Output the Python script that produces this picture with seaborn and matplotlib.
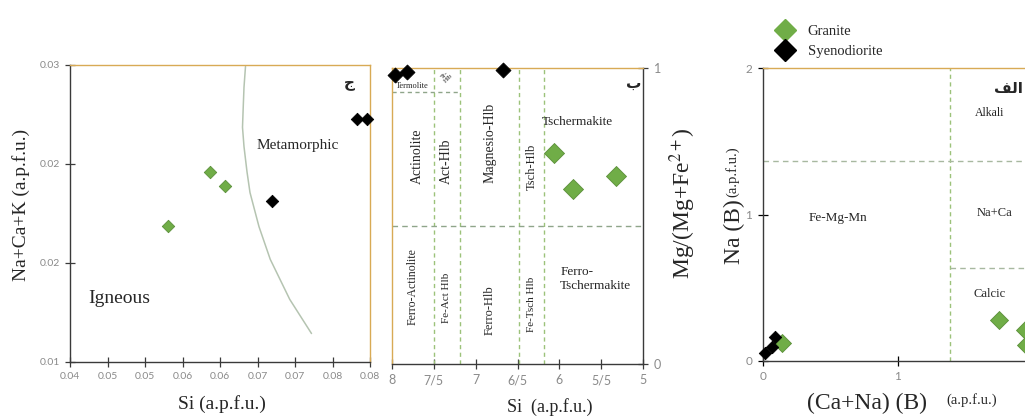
import matplotlib
matplotlib.use("Agg")
import matplotlib.pyplot as plt
from matplotlib.lines import Line2D
import numpy as np
import pandas as pd
import seaborn as sns

# ---- data ----
# panel ج : Na+Ca+K vs Si
p1_rock = ["Granite", "Granite", "Granite", "Syenodiorite", "Syenodiorite", "Syenodiorite"]
p1_si = [0.0530, 0.0587, 0.0607, 0.0669, 0.0783, 0.0796]
p1_nack = [0.01917, 0.02277, 0.02184, 0.02085, 0.02634, 0.02636]
curve_si = [0.0634, 0.0632, 0.0631, 0.0630, 0.0632, 0.0636, 0.0640, 0.0652, 0.0667, 0.0693, 0.0722]
curve_nack = [0.0299, 0.0285, 0.0272, 0.0258, 0.0245, 0.0228, 0.0214, 0.0191, 0.0169, 0.0142, 0.0119]
p1_xticklabels = ["0.04", "0.05", "0.05", "0.06", "0.06", "0.07", "0.07", "0.08", "0.08"]
p1_yticklabels = ["0.01", "0.02", "0.02", "0.03"]

# panel ب : Mg/(Mg+Fe2+) vs Si
p2_rock = ["Granite", "Granite", "Granite", "Syenodiorite", "Syenodiorite", "Syenodiorite"]
p2_si = [6.06, 5.84, 5.32, 7.96, 7.82, 6.67]
p2_mg = [0.713, 0.591, 0.637, 0.977, 0.988, 0.994]
p2_si_bounds = [7.5, 7.19, 6.48, 6.18]
p2_mg_bound = 0.468
p2_trem_bound = 0.92
p2_xticks = [8, 7.5, 7, 6.5, 6, 5.5, 5]
p2_xticklabels = ["8", "7/5", "7", "6/5", "6", "5/5", "5"]

# panel الف : Na(B) vs (Ca+Na)(B)
p3_rock = ["Granite", "Granite", "Granite", "Granite", "Syenodiorite", "Syenodiorite", "Syenodiorite"]
p3_cana = [0.141, 1.753, 1.94, 1.95, 0.091, 0.067, 0.017]
p3_na = [0.123, 0.278, 0.21, 0.107, 0.164, 0.095, 0.051]
p3_cana_bound = 1.387
p3_na_bounds = [1.366, 0.632]

COLORS = {"Granite": "#70ad47", "Syenodiorite": "#000000"}
EDGES = {"Granite": "#5b8f3a", "Syenodiorite": "#000000"}
SPINE = "#3a3a3a"
TAN = "#d8aa55"
DASH = "#9cc27a"
SERIF = "Liberation Serif"

sns.set_style("ticks")
plt.rcParams["font.family"] = ["Lato", "DejaVu Sans"]
plt.rcParams["mathtext.fontset"] = "stix"

df1 = pd.DataFrame({"si": p1_si, "nack": p1_nack, "rock": p1_rock})
df2 = pd.DataFrame({"si": p2_si, "mg": p2_mg, "rock": p2_rock})
df3 = pd.DataFrame({"cana": p3_cana, "na": p3_na, "rock": p3_rock})

W, H = 1025, 417
fig = plt.figure(figsize=(W / 100, H / 100), dpi=100)
fig.patch.set_facecolor("white")


def px_axes(left, right, top, bottom):
    return fig.add_axes([left / W, (H - bottom) / H, (right - left) / W, (bottom - top) / H])


def draw_points(ax, df, x, y, sizes):
    for rock in ["Granite", "Syenodiorite"]:
        sub = df[df["rock"] == rock]
        sns.scatterplot(data=sub, x=x, y=y, ax=ax, marker="D", s=sizes[rock],
                        color=COLORS[rock], edgecolor=EDGES[rock], linewidth=0.6,
                        legend=False, zorder=4, clip_on=False)


def style_spines(ax, dark, tan):
    for side in dark:
        ax.spines[side].set_visible(True)
        ax.spines[side].set_color(SPINE)
        ax.spines[side].set_linewidth(1.0)
    for side in tan:
        ax.spines[side].set_visible(True)
        ax.spines[side].set_color(TAN)
        ax.spines[side].set_linewidth(1.0)


# ---------- panel 1 ----------
ax1 = px_axes(70, 370, 65, 361.7)
sns.lineplot(x=curve_si, y=curve_nack, ax=ax1, sort=False, estimator=None,
             color="#b5c4b1", linewidth=1.1, zorder=2)
draw_points(ax1, df1, "si", "nack", {"Granite": 40, "Syenodiorite": 40})
ax1.set_xlim(0.04, 0.08)
ax1.set_ylim(0.01, 0.03)
ax1.set_xticks(np.linspace(0.04, 0.08, 9))
ax1.set_xticklabels(p1_xticklabels)
ax1.set_yticks(np.linspace(0.01, 0.03, 4))
ax1.set_yticklabels(p1_yticklabels)
style_spines(ax1, ["left", "bottom"], ["top", "right"])
ax1.tick_params(direction="inout", length=7, width=0.9, color=SPINE,
                labelsize=7.5, labelcolor="#8a8a8a", pad=4)
ax1.set_xlabel("Si (a.p.f.u.)", family=SERIF, fontsize=14, va="center")
ax1.xaxis.set_label_coords(0.507, -0.143)
ax1.set_ylabel("Na+Ca+K (a.p.f.u.)", family=SERIF, fontsize=14, va="center")
ax1.yaxis.set_label_coords(-0.163, 0.53)
ax1.text(0.0704, 0.02454, "Metamorphic", family=SERIF, fontsize=11, ha="center", va="center")
ax1.text(0.04657, 0.01429, "Igneous", family=SERIF, fontsize=14, ha="center", va="center")
ax1.text(0.0773, 0.02879, "ج", family="DejaVu Sans", weight="bold", fontsize=11,
         ha="center", va="center")

# ---------- panel 2 ----------
ax2 = px_axes(391.7, 643.3, 68.3, 364)
for s in p2_si_bounds:
    ax2.axvline(s, color=DASH, linestyle=(0, (3, 2.5)), linewidth=1.0, zorder=1)
ax2.axhline(p2_mg_bound, color="#8fa58a", linestyle=(0, (4, 3)), linewidth=1.0, zorder=1)
ax2.hlines(p2_trem_bound, 8, p2_si_bounds[1], color="#8fa58a", linestyle=(0, (3, 2.5)),
           linewidth=1.0, zorder=1)
draw_points(ax2, df2, "si", "mg", {"Granite": 104, "Syenodiorite": 58})
ax2.set_xlim(8, 5)
ax2.set_ylim(0, 1)
ax2.set_xticks(p2_xticks)
ax2.set_xticklabels(p2_xticklabels)
ax2.set_yticks([0, 1])
ax2.yaxis.tick_right()
style_spines(ax2, ["right", "bottom"], ["top", "left"])
ax2.tick_params(direction="inout", length=7, width=0.9, color=SPINE,
                labelsize=9, labelcolor="#8a8a8a", pad=4)
ax2.set_xlabel("Si  (a.p.f.u.)", family=SERIF, fontsize=13, va="center")
ax2.xaxis.set_label_coords(0.627, -0.145)
ax2.yaxis.set_label_position("right")
ax2.set_ylabel("Mg/(Mg+Fe$^{2+}$)", family=SERIF, fontsize=17, rotation=90, va="center")
ax2.yaxis.set_label_coords(1.158, 0.544)

rot_labels = [
    ("Actinolite", 7.70, 0.701, 10),
    ("Act-Hlb", 7.345, 0.685, 10),
    ("Magnesio-Hlb", 6.83, 0.749, 10),
    ("Tsch-Hlb", 6.33, 0.667, 9),
    ("Ferro-Actinolite", 7.75, 0.262, 8.5),
    ("Fe-Act Hlb", 7.345, 0.223, 8),
    ("Ferro-Hlb", 6.83, 0.183, 9),
    ("Fe-Tsch Hlb", 6.33, 0.200, 8),
]
for txt, x, y, fs in rot_labels:
    ax2.text(x, y, txt, family=SERIF, fontsize=fs, rotation=90, ha="center", va="center")
ax2.text(5.79, 0.818, "Tschermakite", family=SERIF, fontsize=9.5, ha="center", va="center")
ax2.text(5.99, 0.287, "Ferro-\nTschermakite", family=SERIF, fontsize=9.5, ha="left",
         va="center", linespacing=1.3)
ax2.text(7.76, 0.940, "Termolite", family=SERIF, fontsize=6, ha="center", va="center")
ax2.text(7.345, 0.972, "Tr-\nHlb", family=SERIF, fontsize=5, rotation=45, ha="center",
         va="center", linespacing=0.9)
ax2.text(5.12, 0.949, "ب", family="DejaVu Sans", weight="bold", fontsize=11,
         ha="center", va="center")

# ---------- panel 3 ----------
ax3 = px_axes(762.7, 1032.7, 68.3, 360.7)
ax3.axvline(p3_cana_bound, color=DASH, linestyle=(0, (3, 2.5)), linewidth=1.0, zorder=1)
ax3.axhline(p3_na_bounds[0], color="#a8b8a0", linestyle=(0, (4, 3)), linewidth=1.0, zorder=1)
ax3.hlines(p3_na_bounds[1], p3_cana_bound, 2, color="#a8b8a0", linestyle=(0, (4, 3)),
           linewidth=1.0, zorder=1)
draw_points(ax3, df3, "cana", "na", {"Granite": 84, "Syenodiorite": 40})
ax3.set_xlim(0, 2)
ax3.set_ylim(0, 2)
ax3.set_xticks([0, 1])
ax3.set_yticks([0, 1, 2])
style_spines(ax3, ["left", "bottom"], ["top"])
ax3.spines["right"].set_visible(False)
ax3.tick_params(direction="inout", length=7, width=0.9, color="#000000",
                labelsize=8.5, labelcolor="#8a8a8a", pad=4)
ax3.set_xlabel("(Ca+Na) (B)", family=SERIF, fontsize=17, va="center")
ax3.xaxis.set_label_coords(0.386, -0.145)
ax3.text(0.775, -0.134, "(a.p.f.u.)", transform=ax3.transAxes, family=SERIF, fontsize=10.5,
         ha="center", va="center")
ax3.set_ylabel("Na (B)", family=SERIF, fontsize=17, va="center")
ax3.yaxis.set_label_coords(-0.103, 0.44)
ax3.text(-0.111, 0.645, "(a.p.f.u.)", transform=ax3.transAxes, family=SERIF, fontsize=10.5,
         rotation=90, ha="center", va="center")
ax3.text(1.679, 1.692, "Alkali", family=SERIF, fontsize=8.5, ha="center", va="center")
ax3.text(1.721, 1.012, "Na+Ca", family=SERIF, fontsize=9, ha="center", va="center")
ax3.text(1.684, 0.456, "Calcic", family=SERIF, fontsize=9, ha="center", va="center")
ax3.text(0.56, 0.974, "Fe-Mg-Mn", family=SERIF, fontsize=9.5, ha="center", va="center")
ax3.text(1.925, 1.865, "\ufed2\ufedf\ufe8d", family="DejaVu Sans", weight="bold",
         fontsize=11, ha="right", va="center")

handles = [Line2D([], [], marker="D", linestyle="none", markersize=11,
                  markerfacecolor=COLORS[r], markeredgecolor=COLORS[r], label=r)
           for r in ["Granite", "Syenodiorite"]]
leg = ax3.legend(handles=handles, loc="upper left", bbox_to_anchor=(0.016, 1.174),
                 frameon=False, borderpad=0, handlelength=1.4, handletextpad=0.9,
                 labelspacing=0.45, prop={"family": SERIF, "size": 10.5})

fig.savefig("out.png", dpi=100, facecolor="white")
